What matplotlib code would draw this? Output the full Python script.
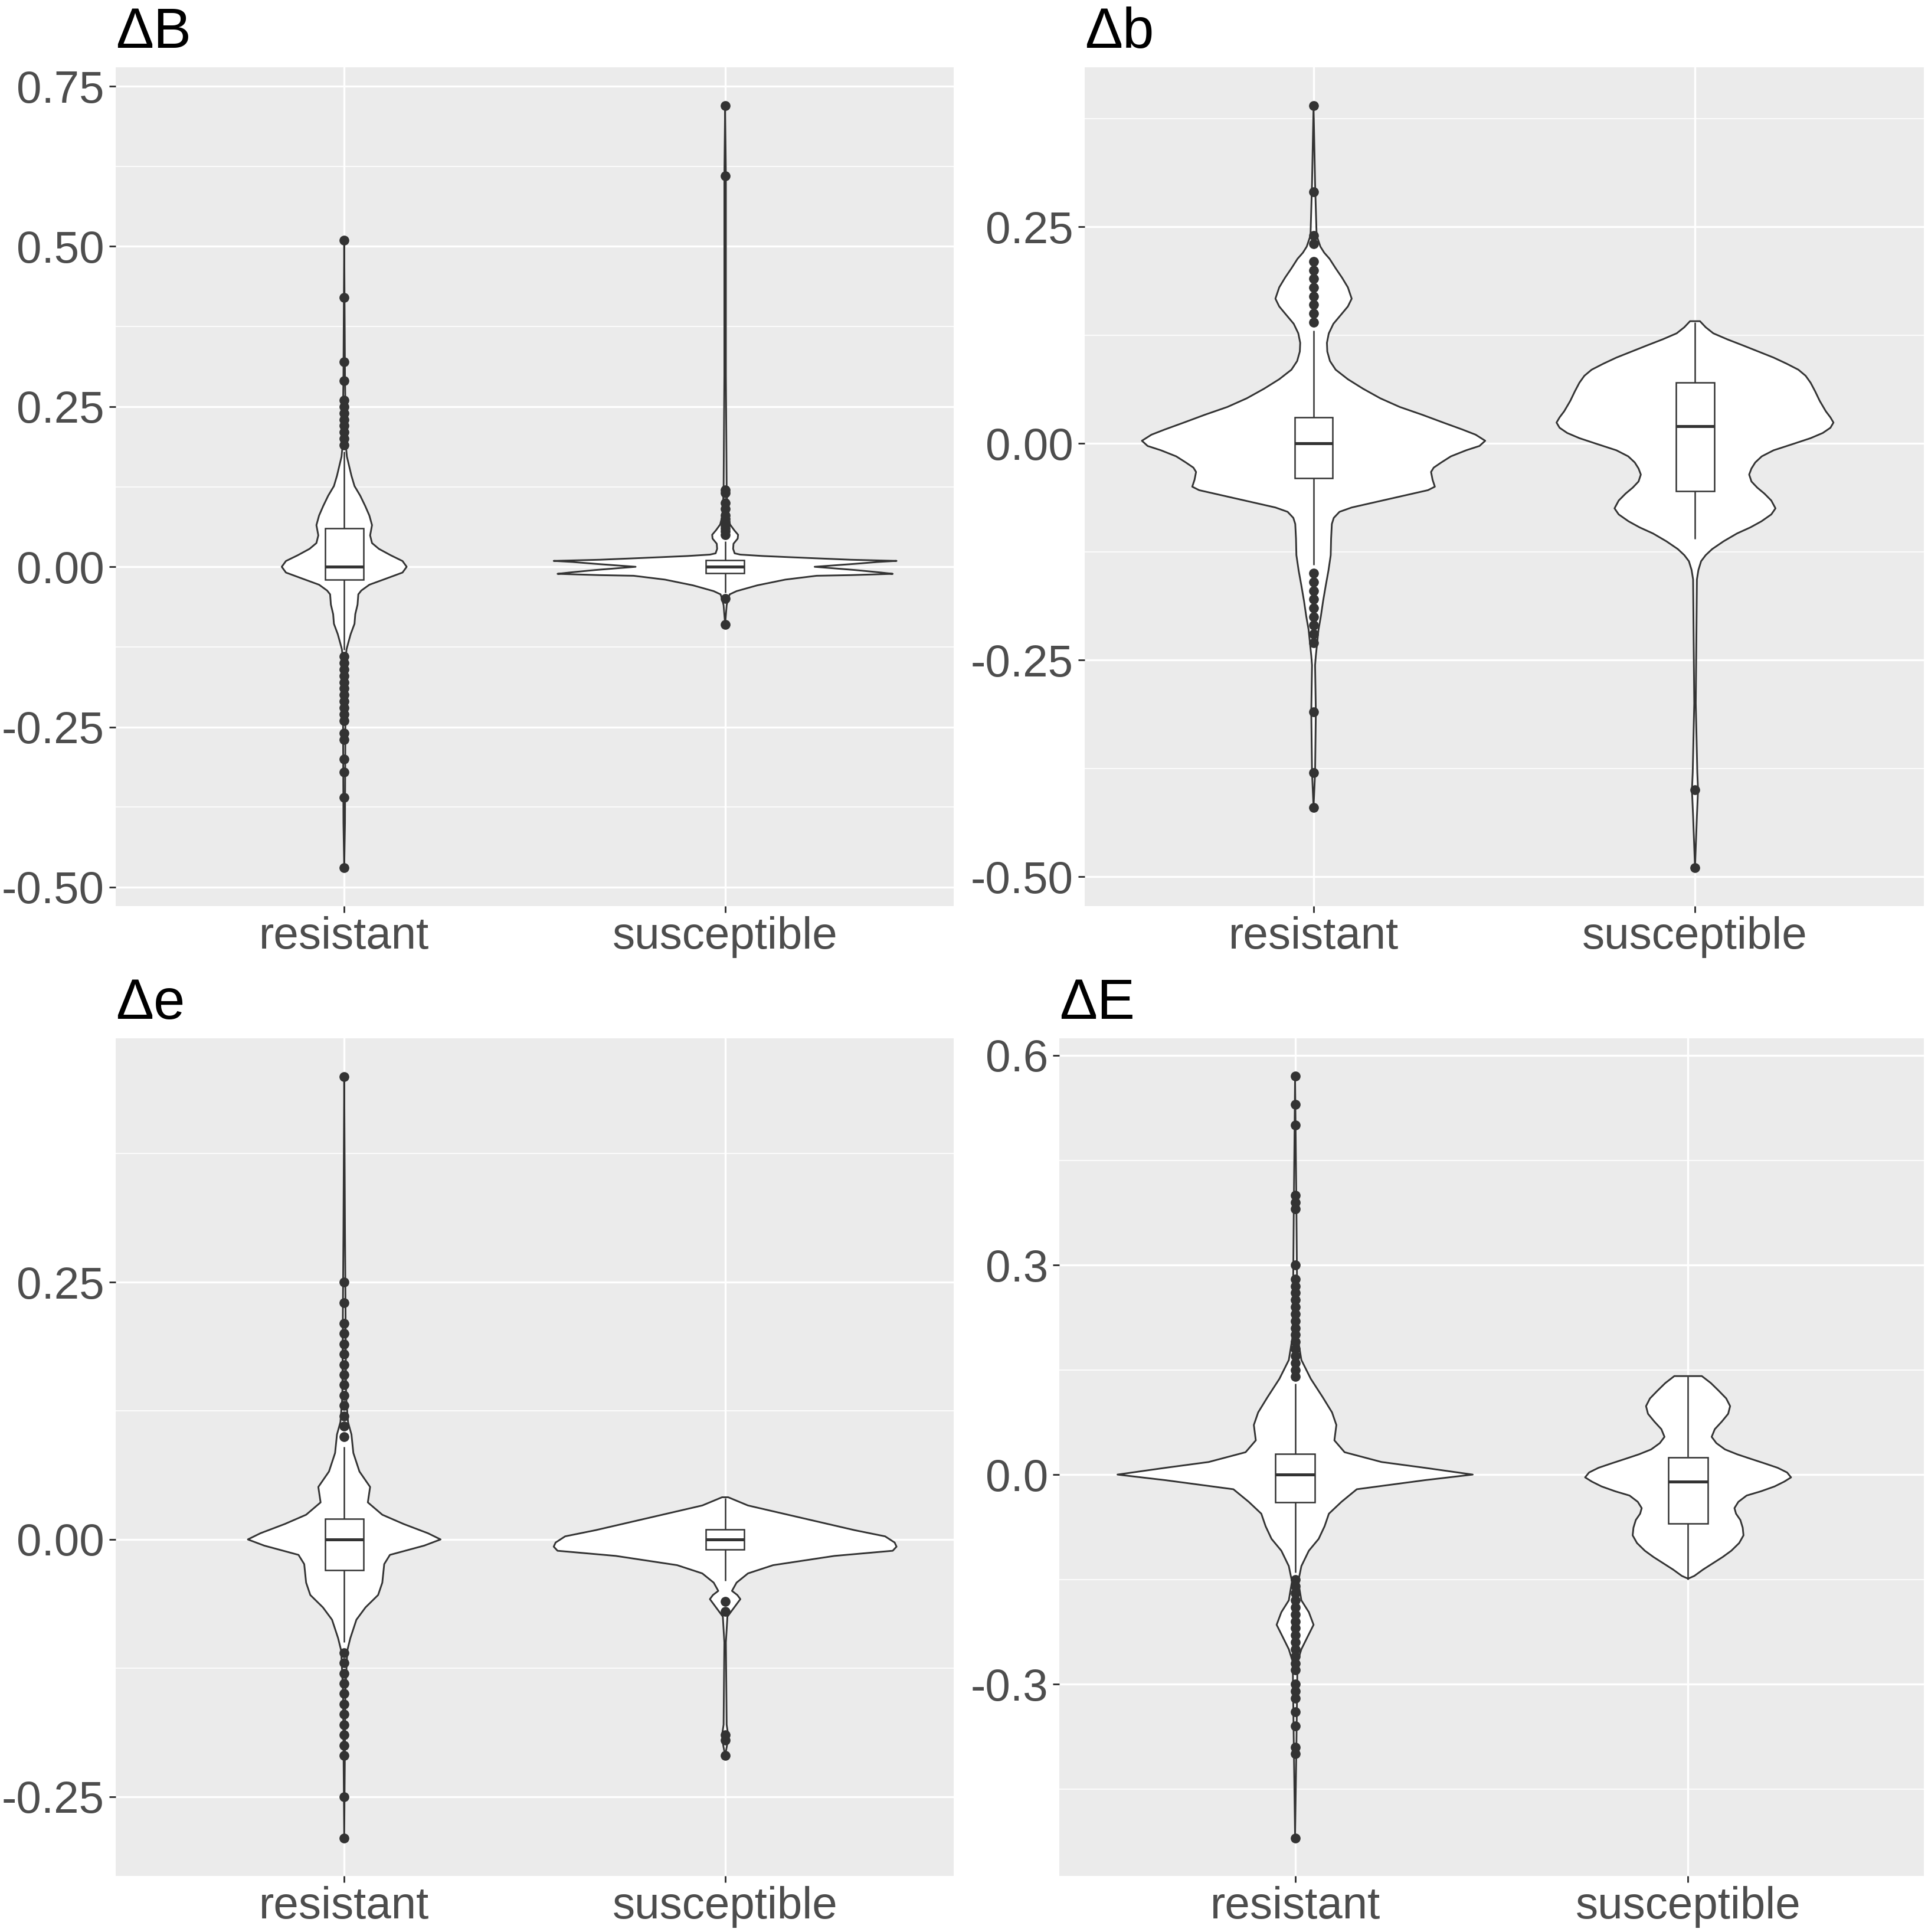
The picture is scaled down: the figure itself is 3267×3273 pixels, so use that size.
import numpy as np
import matplotlib.pyplot as plt
from matplotlib.patches import Rectangle

plt.rcParams['font.family'] = ['Liberation Sans', 'DejaVu Sans']

W, H = 3267, 3273
DPI = 300
EDGE = '#333333'

categories = ['resistant', 'susceptible']
titles = ['ΔB', 'Δb', 'Δe', 'ΔE']

# violin outlines: y value and half width (x units)
dB_res_y = [0.51, 0.30, 0.20, 0.185, 0.172, 0.142, 0.126, 0.111, 0.095, 0.080, 0.065, 0.049, 0.037, 0.028,
            0.018, 0.009, 0.0, -0.009, -0.018, -0.028, -0.037, -0.043, -0.059, -0.074, -0.089, -0.105,
            -0.120, -0.129, -0.142, -0.25, -0.40, -0.47]
dB_res_w = [0.0, 0.002, 0.004, 0.005, 0.007, 0.019, 0.027, 0.042, 0.055, 0.066, 0.073, 0.068, 0.073, 0.091,
            0.122, 0.153, 0.164, 0.153, 0.112, 0.066, 0.045, 0.037, 0.035, 0.029, 0.027, 0.017,
            0.010, 0.006, 0.004, 0.003, 0.002, 0.0]
dB_sus_y = [0.72, 0.61, 0.30, 0.12, 0.09, 0.078, 0.066, 0.057, 0.050, 0.044, 0.036, 0.028, 0.021, 0.019,
            0.0168, 0.0137, 0.011, 0.0092, 0.0075, 0.0046, 0.0, -0.005, -0.009, -0.011, -0.013, -0.014,
            -0.020, -0.029, -0.038, -0.043, -0.05, -0.06, -0.09]
dB_sus_w = [0.0, 0.002, 0.002, 0.004, 0.006, 0.008, 0.013, 0.024, 0.034, 0.033, 0.022, 0.021, 0.025, 0.040,
            0.10, 0.22, 0.33, 0.45, 0.40, 0.34, 0.235, 0.34, 0.41, 0.44, 0.33, 0.24,
            0.158, 0.084, 0.030, 0.012, 0.008, 0.004, 0.0]

db_res_y = [0.39, 0.30, 0.24, 0.227, 0.220, 0.213, 0.202, 0.191, 0.180, 0.167, 0.158, 0.149, 0.138, 0.127,
            0.116, 0.106, 0.095, 0.085, 0.074, 0.063, 0.052, 0.042, 0.033, 0.024, 0.016, 0.010, 0.003,
            -0.003, -0.008, -0.015, -0.022, -0.028, -0.033, -0.042, -0.05, -0.054, -0.058, -0.063, -0.068,
            -0.074, -0.079, -0.086, -0.093, -0.11, -0.129, -0.147, -0.164, -0.182, -0.20, -0.215, -0.228,
            -0.245, -0.256, -0.31, -0.38, -0.42]
db_res_w = [0.0, 0.004, 0.008, 0.018, 0.028, 0.042, 0.058, 0.075, 0.090, 0.10, 0.09, 0.073, 0.052, 0.04,
            0.035, 0.036, 0.043, 0.058, 0.09, 0.13, 0.175, 0.226, 0.285, 0.34, 0.39, 0.425, 0.45,
            0.435, 0.40, 0.36, 0.335, 0.315, 0.308, 0.312, 0.318, 0.30, 0.26, 0.21, 0.16,
            0.10, 0.068, 0.053, 0.048, 0.046, 0.045, 0.039, 0.032, 0.025, 0.019, 0.013, 0.010,
            0.006, 0.004, 0.006, 0.004, 0.0]
db_sus_y = [0.141, 0.134, 0.127, 0.120, 0.113, 0.106, 0.099, 0.092, 0.085, 0.078, 0.070, 0.060, 0.049, 0.037,
            0.030, 0.024, 0.018, 0.012, 0.006, -0.001, -0.008, -0.015, -0.022, -0.029, -0.036, -0.044,
            -0.051, -0.058, -0.066, -0.075, -0.082, -0.09, -0.097, -0.104, -0.113, -0.122, -0.129, -0.136,
            -0.146, -0.157, -0.30, -0.38, -0.40, -0.43, -0.49]
db_sus_w = [0.013, 0.028, 0.048, 0.085, 0.126, 0.166, 0.206, 0.24, 0.271, 0.29, 0.303, 0.315, 0.327, 0.343,
            0.355, 0.363, 0.355, 0.335, 0.303, 0.255, 0.206, 0.175, 0.158, 0.148, 0.142, 0.148,
            0.163, 0.182, 0.200, 0.211, 0.200, 0.174, 0.145, 0.11, 0.075, 0.045, 0.028, 0.016,
            0.009, 0.005, 0.002, 0.006, 0.008, 0.005, 0.0]

de_res_y = [0.45, 0.30, 0.138, 0.114, 0.102, 0.084, 0.066, 0.051, 0.036, 0.024, 0.015, 0.006, 0.0, -0.006,
            -0.015, -0.024, -0.042, -0.054, -0.066, -0.078, -0.096, -0.108, -0.15, -0.29]
de_res_w = [0.0, 0.002, 0.005, 0.010, 0.019, 0.024, 0.040, 0.068, 0.062, 0.10, 0.156, 0.22, 0.253, 0.21,
            0.12, 0.105, 0.10, 0.089, 0.056, 0.032, 0.016, 0.008, 0.003, 0.0]
de_sus_y = [0.041, 0.033, 0.021, 0.009, 0.003, -0.003, -0.007, -0.011, -0.016, -0.025, -0.033, -0.042,
            -0.050, -0.054, -0.058, -0.066, -0.075, -0.10, -0.18, -0.19, -0.20, -0.21]
de_sus_w = [0.008, 0.06, 0.20, 0.34, 0.42, 0.445, 0.45, 0.44, 0.287, 0.126, 0.06, 0.03,
            0.018, 0.032, 0.04, 0.024, 0.006, 0.002, 0.004, 0.008, 0.005, 0.0]

dE_res_y = [0.57, 0.40, 0.199, 0.164, 0.137, 0.111, 0.089, 0.071, 0.049, 0.032, 0.018, 0.0097, 0.0, -0.008,
            -0.021, -0.039, -0.056, -0.074, -0.092, -0.109, -0.131, -0.153, -0.18, -0.197, -0.215, -0.233,
            -0.25, -0.268, -0.40, -0.52]
dE_res_w = [0.0, 0.003, 0.006, 0.016, 0.04, 0.07, 0.094, 0.105, 0.10, 0.126, 0.22, 0.33, 0.452, 0.33,
            0.157, 0.118, 0.086, 0.075, 0.06, 0.035, 0.016, 0.008, 0.016, 0.035, 0.047, 0.031,
            0.016, 0.006, 0.003, 0.0]
dE_sus_y = [0.141, 0.131, 0.12, 0.109, 0.098, 0.087, 0.076, 0.065, 0.054, 0.045, 0.036, 0.029, 0.023, 0.016,
            0.0097, 0.003, -0.004, -0.010, -0.017, -0.024, -0.03, -0.039, -0.048, -0.056, -0.065, -0.076,
            -0.087, -0.098, -0.109, -0.118, -0.127, -0.136, -0.145, -0.149]
dE_sus_w = [0.035, 0.058, 0.078, 0.097, 0.107, 0.102, 0.086, 0.068, 0.06, 0.072, 0.094, 0.125, 0.157, 0.195,
            0.228, 0.252, 0.262, 0.245, 0.22, 0.185, 0.149, 0.128, 0.118, 0.122, 0.133, 0.139,
            0.141, 0.13, 0.11, 0.088, 0.063, 0.038, 0.016, 0.0]

# box stats: lower whisker, q1, median, q3, upper whisker
dB_res_box = [-0.13, -0.02, 0.0, 0.06, 0.18]
dB_sus_box = [-0.04, -0.01, 0.0, 0.01, 0.04]
db_res_box = [-0.14, -0.04, 0.0, 0.03, 0.13]
db_sus_box = [-0.11, -0.055, 0.02, 0.07, 0.14]
de_res_box = [-0.10, -0.03, 0.0, 0.02, 0.09]
de_sus_box = [-0.04, -0.01, 0.0, 0.01, 0.04]
dE_res_box = [-0.14, -0.04, 0.0, 0.03, 0.13]
dE_sus_box = [-0.15, -0.07, -0.01, 0.025, 0.14]

# outliers
dB_res_out = [0.19, 0.20, 0.21, 0.22, 0.23, 0.24, 0.25, 0.26, 0.29, 0.32, 0.42, 0.51,
              -0.14, -0.15, -0.16, -0.17, -0.18, -0.19, -0.20, -0.21, -0.22, -0.23, -0.24,
              -0.26, -0.27, -0.30, -0.32, -0.36, -0.47]
dB_sus_out = [0.05, 0.055, 0.06, 0.065, 0.07, 0.075, 0.08, 0.09, 0.10, 0.115, 0.12, 0.61, 0.72,
              -0.05, -0.09]
db_res_out = [0.14, 0.15, 0.16, 0.17, 0.18, 0.19, 0.20, 0.21, 0.23, 0.24, 0.29, 0.39,
              -0.15, -0.16, -0.17, -0.18, -0.19, -0.20, -0.21, -0.22, -0.23, -0.31, -0.38, -0.42]
db_sus_out = [-0.40, -0.49]
de_res_out = [0.10, 0.11, 0.12, 0.13, 0.14, 0.15, 0.16, 0.17, 0.18, 0.19, 0.20, 0.21, 0.23, 0.25, 0.45,
              -0.11, -0.12, -0.13, -0.14, -0.15, -0.16, -0.17, -0.18, -0.19, -0.20, -0.21, -0.25, -0.29]
de_sus_out = [-0.06, -0.07, -0.19, -0.195, -0.21]
dE_res_out = [0.14, 0.15, 0.16, 0.17, 0.18, 0.19, 0.20, 0.21, 0.22, 0.23, 0.24, 0.25, 0.26, 0.27, 0.28,
              0.30, 0.38, 0.39, 0.40, 0.50, 0.53, 0.57,
              -0.15, -0.16, -0.17, -0.18, -0.19, -0.20, -0.21, -0.22, -0.23, -0.24, -0.25, -0.26, -0.27,
              -0.28, -0.30, -0.31, -0.32, -0.34, -0.36, -0.39, -0.40, -0.52]
dE_sus_out = []

dB_ticks = [-0.5, -0.25, 0.0, 0.25, 0.5, 0.75]
db_ticks = [-0.5, -0.25, 0.0, 0.25]
de_ticks = [-0.25, 0.0, 0.25]
dE_ticks = [-0.3, 0.0, 0.3, 0.6]

panels = [
    (titles[0], (dB_res_y, dB_res_w, dB_res_box, dB_res_out), (dB_sus_y, dB_sus_w, dB_sus_box, dB_sus_out), dB_ticks, '{:.2f}'),
    (titles[1], (db_res_y, db_res_w, db_res_box, db_res_out), (db_sus_y, db_sus_w, db_sus_box, db_sus_out), db_ticks, '{:.2f}'),
    (titles[2], (de_res_y, de_res_w, de_res_box, de_res_out), (de_sus_y, de_sus_w, de_sus_box, de_sus_out), de_ticks, '{:.2f}'),
    (titles[3], (dE_res_y, dE_res_w, dE_res_box, dE_res_out), (dE_sus_y, dE_sus_w, dE_sus_box, dE_sus_out), dE_ticks, '{:.1f}'),
]

# panel boxes in pixels: left, top, right, bottom
boxes = [(196, 114, 1616, 1535), (1838, 114, 3260, 1535),
         (196, 1759, 1616, 3178), (1795, 1759, 3260, 3178)]


def draw_violin(ax, pos, ys, ws, box, outl):
    ys = np.asarray(ys)
    ws = np.asarray(ws)
    xs = np.concatenate([pos + ws, (pos - ws)[::-1]])
    yy = np.concatenate([ys, ys[::-1]])
    ax.fill(xs, yy, facecolor='white', edgecolor=EDGE, lw=0.7, joinstyle='round', zorder=2)
    wlo, q1, med, q3, whi = box
    ax.plot([pos, pos], [q3, whi], color=EDGE, lw=0.6, zorder=3, solid_capstyle='butt')
    ax.plot([pos, pos], [wlo, q1], color=EDGE, lw=0.6, zorder=3, solid_capstyle='butt')
    ax.add_patch(Rectangle((pos - 0.05, q1), 0.1, q3 - q1, facecolor='white',
                           edgecolor=EDGE, lw=0.6, zorder=4))
    ax.plot([pos - 0.05, pos + 0.05], [med, med], color=EDGE, lw=1.2, zorder=5,
            solid_capstyle='butt')
    if outl:
        ax.plot(np.full(len(outl), pos), outl, 'o', ms=4.0, color=EDGE, mew=0, zorder=6)


fig = plt.figure(figsize=(W / DPI, H / DPI), dpi=DPI)

for (title, res, sus, ticks, fmt), (l, t, r, b) in zip(panels, boxes):
    ax = fig.add_axes([l / W, 1 - b / H, (r - l) / W, (b - t) / H])
    ax.set_facecolor('#EBEBEB')
    for s in ax.spines.values():
        s.set_visible(False)

    draw_violin(ax, 1, *res)
    draw_violin(ax, 2, *sus)

    lo = min(min(res[0]), min(sus[0]))
    hi = max(max(res[0]), max(sus[0]))
    pad = 0.05 * (hi - lo)
    ax.set_ylim(lo - pad, hi + pad)
    ax.set_xlim(0.4, 2.6)

    step = ticks[1] - ticks[0]
    minors = [ticks[0] - step / 2] + [tk + step / 2 for tk in ticks]
    minors = [m for m in minors if lo - pad < m < hi + pad]
    ax.set_yticks(ticks)
    ax.set_yticklabels([fmt.format(tk) for tk in ticks])
    ax.set_yticks(minors, minor=True)
    ax.set_xticks([1, 2])
    ax.set_xticklabels(categories)

    ax.set_axisbelow(True)
    ax.grid(which='major', color='white', lw=0.8)
    ax.grid(which='minor', axis='y', color='white', lw=0.4)
    ax.tick_params(which='major', length=2.6, width=0.7, color=EDGE,
                   labelsize=18.3, labelcolor='#4D4D4D')
    ax.tick_params(axis='y', pad=2)
    ax.tick_params(axis='x', pad=1.5)
    ax.tick_params(which='minor', length=0)
    ax.set_title(title, loc='left', fontsize=23, pad=8, color='black')

fig.savefig('out.png', dpi=DPI)
